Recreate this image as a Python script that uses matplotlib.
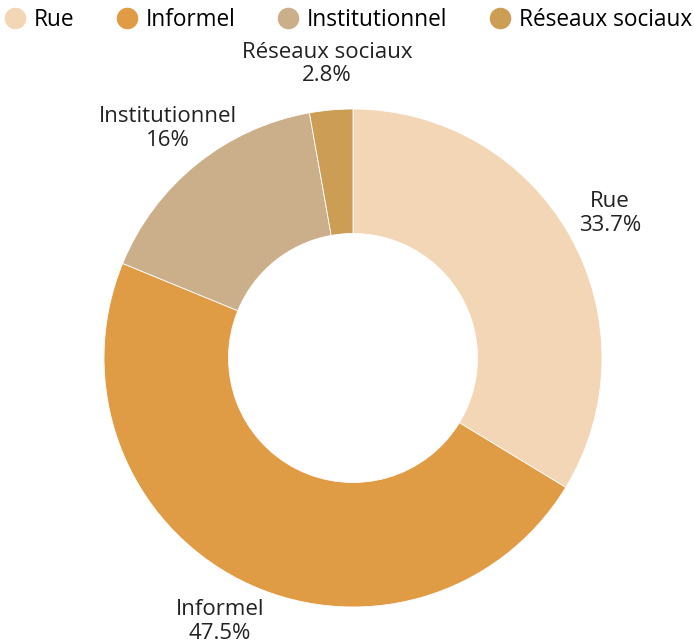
import numpy as np
import matplotlib
matplotlib.use("Agg")
import matplotlib.pyplot as plt
from matplotlib.lines import Line2D

plt.rcParams['font.family'] = ['Open Sans', 'DejaVu Sans']

categories = ["Rue", "Informel", "Institutionnel", "Réseaux sociaux"]
values = [33.7, 47.5, 16, 2.8]
value_labels = ["33.7%", "47.5%", "16%", "2.8%"]
colors = ["#F3D6B5", "#E09B45", "#CBAE8A", "#CC9E55"]

W, H = 694, 643
fig = plt.figure(figsize=(W / 100, H / 100), dpi=100)
cx, cy, R = 353, 358, 249
ax = fig.add_axes([(cx - R) / W, (H - cy - R) / H, 2 * R / W, 2 * R / H])

wedges, _ = ax.pie(values, colors=colors, startangle=90, counterclock=False,
                   radius=1.0, wedgeprops=dict(width=0.5, edgecolor='white', linewidth=0.6))
ax.set_xlim(-1, 1)
ax.set_ylim(-1, 1)
ax.set_aspect('equal')
ax.axis('off')

for w, cat, lab in zip(wedges, categories, value_labels):
    ang = np.deg2rad((w.theta1 + w.theta2) / 2)
    r = 1.185
    ax.text(r * np.cos(ang), r * np.sin(ang), f"{cat}\n{lab}", ha='center', va='center',
            fontsize=16, color='#222222', linespacing=1.15, clip_on=False)

handles = [Line2D([0], [0], marker='o', linestyle='', markersize=14.5,
                  markerfacecolor=c, markeredgecolor=c) for c in colors]
fig.legend(handles, categories, loc='upper left', bbox_to_anchor=(-0.013, 1.009), ncol=4,
           frameon=False, fontsize=16.3, handlelength=0.9, handletextpad=0.4,
           columnspacing=1.85, borderaxespad=0.2)

fig.savefig("out.png", dpi=100)
